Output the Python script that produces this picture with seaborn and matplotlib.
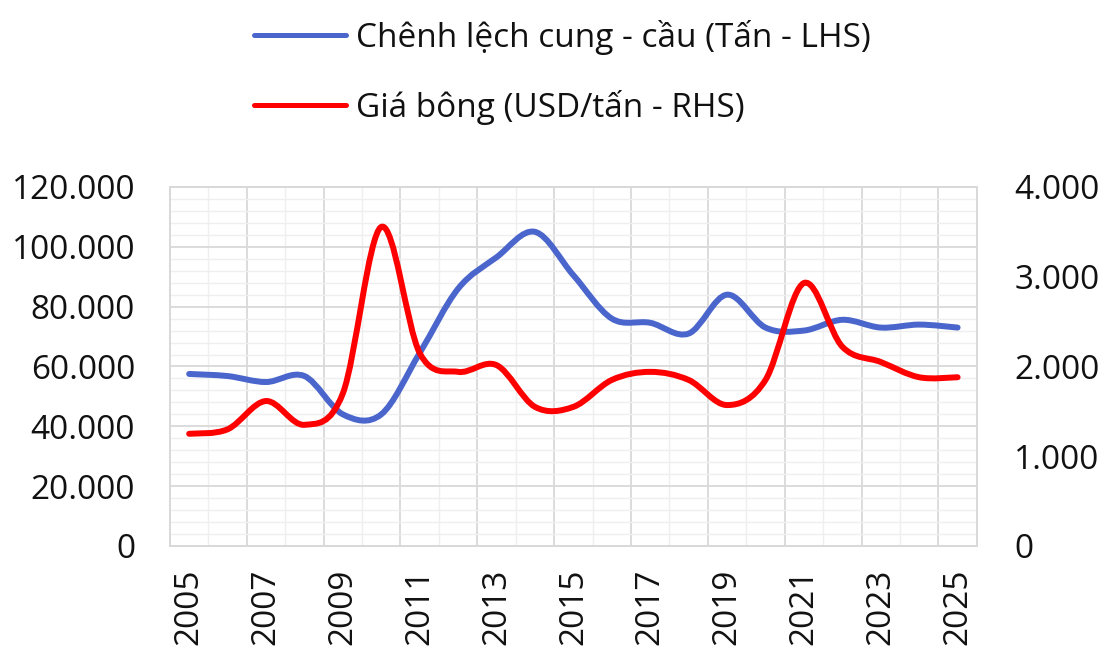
import numpy as np
import pandas as pd
import matplotlib
matplotlib.use("Agg")
import matplotlib.pyplot as plt
import seaborn as sns
from matplotlib.path import Path
from matplotlib.patches import PathPatch
from matplotlib.lines import Line2D
from matplotlib.ticker import FuncFormatter, MultipleLocator

years = list(range(2005, 2026))
gap_tons = [57500, 56800, 54800, 56800, 44000, 44000, 64500, 86000, 96500, 105000,
            90500, 76000, 74600, 71000, 84000, 73000, 72000, 75600, 73000, 74000, 73000]
price_usd = [1250, 1300, 1615, 1350, 1700, 3555, 2150, 1940, 2015, 1550,
             1550, 1850, 1940, 1850, 1570, 1850, 2930, 2220, 2050, 1880, 1880]
label_gap = "Chênh lệch cung - cầu (Tấn - LHS)"
label_price = "Giá bông (USD/tấn - RHS)"
blue = "#4a66cc"
red = "#ff0000"

sns.set_style("white")
plt.rcParams["font.family"] = ["Open Sans", "DejaVu Sans"]

df = pd.DataFrame({"idx": np.arange(len(years)), "gap": gap_tons, "price": price_usd})

fig = plt.figure(figsize=(11.05, 6.56), dpi=100)
ax = fig.add_axes([0.1538, 0.1677, 0.7302, 0.5473])
ax2 = ax.twinx()

LW = 4.3
sns.lineplot(data=df, x="idx", y="gap", ax=ax, color=blue, linewidth=LW)
sns.lineplot(data=df, x="idx", y="price", ax=ax2, color=red, linewidth=LW)


def smooth(axis, color):
    line = axis.get_lines()[0]
    pts = line.get_xydata()
    line.remove()
    n = len(pts)
    verts = [tuple(pts[0])]
    codes = [Path.MOVETO]
    for i in range(n - 1):
        p0 = pts[i - 1] if i > 0 else pts[i]
        p1 = pts[i]
        p2 = pts[i + 1]
        p3 = pts[i + 2] if i + 2 < n else pts[i + 1]
        c1 = p1 + (p2 - p0) / 6.0
        c2 = p2 - (p3 - p1) / 6.0
        verts += [tuple(c1), tuple(c2), tuple(p2)]
        codes += [Path.CURVE4] * 3
    patch = PathPatch(Path(verts, codes), facecolor="none", edgecolor=color,
                      linewidth=LW, capstyle="round", joinstyle="round", zorder=3)
    axis.add_patch(patch)


smooth(ax, blue)
smooth(ax2, red)

ax.set_xlim(-0.5, len(years) - 0.5)
ax.set_ylim(0, 120000)
ax2.set_ylim(0, 4000)

fmt = FuncFormatter(lambda v, p: f"{v:,.0f}".replace(",", "."))
ax.yaxis.set_major_locator(MultipleLocator(20000))
ax.yaxis.set_minor_locator(MultipleLocator(4000))
ax2.yaxis.set_major_locator(MultipleLocator(1000))
ax.yaxis.set_major_formatter(fmt)
ax2.yaxis.set_major_formatter(fmt)

ax.set_xticks(np.arange(0, len(years), 2))
ax.set_xticklabels([str(y) for y in years[::2]], rotation=90)
ax.set_xticks(np.arange(-0.5, len(years), 1.0), minor=True)

# grid
for xv in np.arange(-0.5, len(years), 1.0):
    major = (int(round(xv + 0.5)) % 2 == 0)
    ax.axvline(xv, color="#d9d9d9" if major else "#efefef", lw=1.3 if major else 1.0, zorder=0)
for yv in np.arange(0, 120001, 4000):
    major = (yv % 20000 == 0)
    ax.axhline(yv, color="#d9d9d9" if major else "#efefef", lw=1.3 if major else 1.0, zorder=0)

for a in (ax, ax2):
    a.set_xlabel("")
    a.set_ylabel("")
    for s in a.spines.values():
        s.set_color("#d9d9d9")
        s.set_linewidth(1.3)
    a.tick_params(which="both", length=0)

ax.tick_params(axis="y", labelsize=24, pad=25, colors="#111111")
ax2.tick_params(axis="y", labelsize=24, pad=27, colors="#111111")
ax.tick_params(axis="x", labelsize=24, pad=16, colors="#111111")

handles = [Line2D([0], [0], color=blue, lw=3.6), Line2D([0], [0], color=red, lw=3.6)]
fig.legend(handles, [label_gap, label_price], loc="upper center",
           bbox_to_anchor=(0.509, 1.015), ncol=1, frameon=False, fontsize=24,
           handlelength=2.75, handletextpad=0.3, labelspacing=1.05,
           labelcolor="#111111")

fig.savefig("out.png", dpi=100)
